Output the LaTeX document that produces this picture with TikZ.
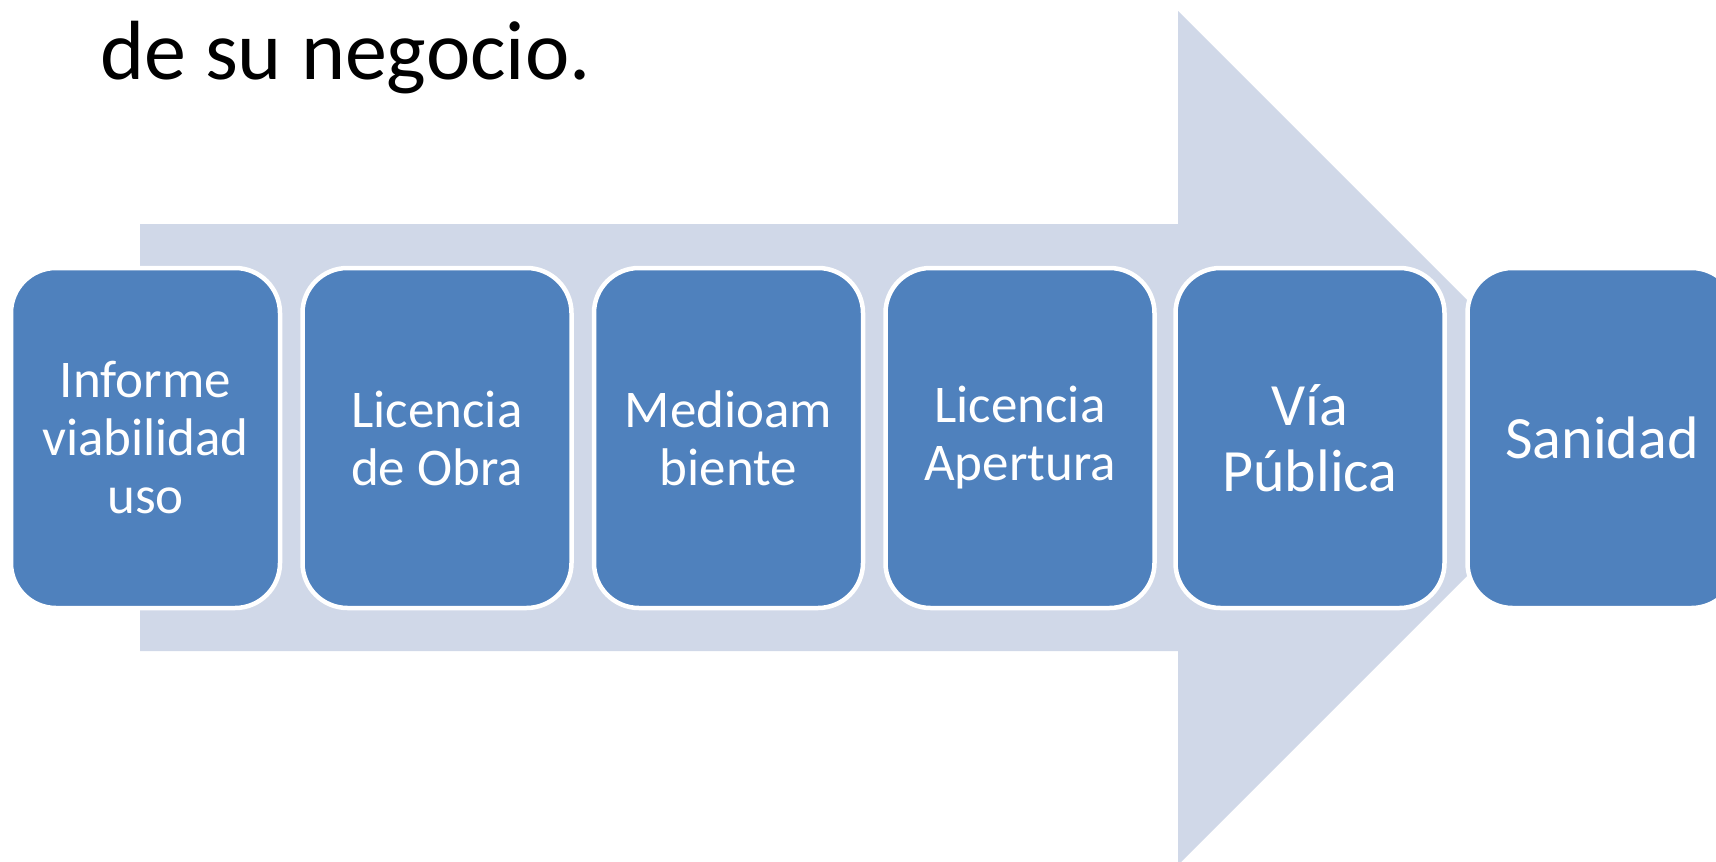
\documentclass[tikz,border=0pt]{standalone}
\usepackage{fontspec}
\setmainfont{Carlito}
\definecolor{bandcol}{RGB}{208,216,232}
\definecolor{boxcol}{RGB}{79,129,189}
\tikzset{
  stepbox/.style={draw=white, line width=4.5pt, fill=boxcol, rounded corners=45pt,
    minimum width=269pt, minimum height=340pt, inner sep=0pt,
    align=center, text=white, font=\fontsize{53}{58}\selectfont},
  bigbox/.style={stepbox, font=\fontsize{60}{66}\selectfont}
}
\begin{document}
\begin{tikzpicture}[x=1pt,y=-1pt]
\useasboundingbox (0,0) rectangle (1716,862);
\clip (0,0) rectangle (1716,862);
\fill[white] (0,0) rectangle (1716,862);
\node[anchor=base west, inner sep=0pt, font=\fontsize{84}{100}\selectfont] (title) at (100,79) {de su negocio.};
\fill[bandcol] (140,224) -- (1178,224) -- (1178,11) -- (1605,438) -- (1178,865) -- (1178,651) -- (140,651) -- cycle;
\node[stepbox] (b1) at (145.5,438) {Informe\\viabilidad\\uso};
\node[stepbox] (b2) at (437,438) {Licencia\\de Obra};
\node[stepbox] (b3) at (728.5,438) {Medioam\\biente};
\node[stepbox] (b4) at (1020,438) {Licencia\\Apertura};
\node[bigbox] (b5) at (1310,438) {Vía\\Pública};
\node[bigbox] (b6) at (1602,438) {Sanidad};
\end{tikzpicture}
\end{document}
